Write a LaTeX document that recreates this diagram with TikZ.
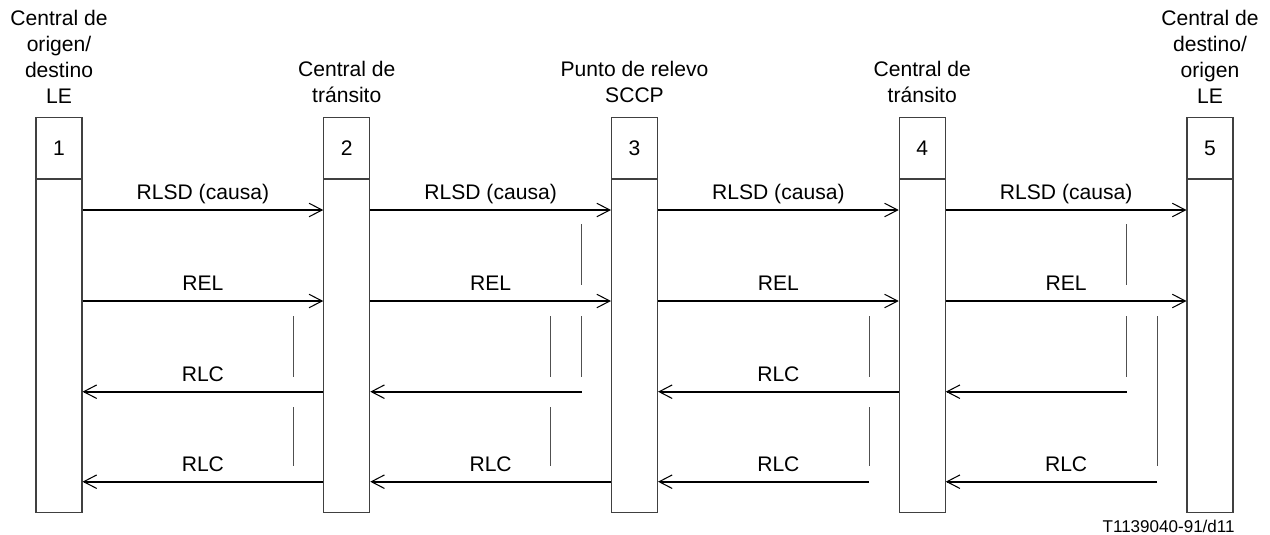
\documentclass[tikz,border=0pt]{standalone}
\usepackage{fontspec}
\setmainfont{Liberation Sans}
\usetikzlibrary{positioning, arrows.meta, calc}
\definecolor{boxline}{RGB}{64, 64, 64}
\definecolor{timerline}{RGB}{80, 80, 80}
\tikzset{
    base/.style={font=\fontsize{12}{14.8}\selectfont, align=center, inner sep=0pt},
    header/.style={base, anchor=south},
    topcell/.style={base, draw=boxline, line width=0.6pt, minimum width=0.92cm, minimum height=1.21cm},
    lifeline/.style={draw=boxline, line width=0.6pt, minimum width=0.92cm, minimum height=6.67cm, inner sep=0pt},
    msg/.style={-{Straight Barb[length=0.26cm, width=0.27cm, line width=0.6pt]}, line width=1pt},
    msglabel/.style={base, anchor=base, yshift=0.21cm},
    timer/.style={draw=timerline, line width=0.5pt}
}

\begin{document}
\begin{tikzpicture}[x=0.02cm, y=-0.02cm]
\useasboundingbox (0,0) rectangle (1270,534);

% Exchanges
\node[topcell] (h1) at (59,148) {1};
\node[topcell, right=4.815cm of h1] (h2) {2};
\node[topcell, right=4.815cm of h2] (h3) {3};
\node[topcell, right=4.815cm of h3] (h4) {4};
\node[topcell, right=4.815cm of h4] (h5) {5};
\node[lifeline, below=0pt of h1] (b1) {};
\node[lifeline, below=0pt of h2] (b2) {};
\node[lifeline, below=0pt of h3] (b3) {};
\node[lifeline, below=0pt of h4] (b4) {};
\node[lifeline, below=0pt of h5] (b5) {};

\node[header, above=0.275cm of h1] (n1) {Central de\\origen/\\destino\\LE};
\node[header, above=0.275cm of h2] (n2) {Central de\\tránsito};
\node[header, above=0.275cm of h3] (n3) {Punto de relevo\\SCCP};
\node[header, above=0.275cm of h4] (n4) {Central de\\tránsito};
\node[header, above=0.275cm of h5] (n5) {Central de\\destino/\\origen\\LE};

% Message levels and timer ends
\coordinate (r1) at (0,210);
\coordinate (r2) at (0,301);
\coordinate (r3) at (0,391.7);
\coordinate (r4) at (0,481.7);
\coordinate (s3a) at (581.7,391.7);
\coordinate (s5a) at (1126.7,391.7);
\coordinate (s4b) at (869,481.7);
\coordinate (s5b) at (1157,481.7);

% RLSD
\draw[msg] (b1.east |- r1) -- node[msglabel, midway] {RLSD (causa)} (b2.west |- r1);
\draw[msg] (b2.east |- r1) -- node[msglabel, midway] {RLSD (causa)} (b3.west |- r1);
\draw[msg] (b3.east |- r1) -- node[msglabel, midway] {RLSD (causa)} (b4.west |- r1);
\draw[msg] (b4.east |- r1) -- node[msglabel, midway] {RLSD (causa)} (b5.west |- r1);

% REL
\draw[msg] (b1.east |- r2) -- node[msglabel, midway] {REL} (b2.west |- r2);
\draw[msg] (b2.east |- r2) -- node[msglabel, midway] {REL} (b3.west |- r2);
\draw[msg] (b3.east |- r2) -- node[msglabel, midway] {REL} (b4.west |- r2);
\draw[msg] (b4.east |- r2) -- node[msglabel, midway] {REL} (b5.west |- r2);

% RLC
\draw[msg] (b2.west |- r3) -- node[msglabel, midway] {RLC} (b1.east |- r3);
\draw[msg] (s3a) -- (b2.east |- r3);
\draw[msg] (b4.west |- r3) -- node[msglabel, midway] {RLC} (b3.east |- r3);
\draw[msg] (s5a) -- (b4.east |- r3);

\draw[msg] (b2.west |- r4) -- node[msglabel, midway] {RLC} (b1.east |- r4);
\draw[msg] (b3.west |- r4) -- node[msglabel, midway] {RLC} (b2.east |- r4);
\draw[msg] (s4b) -- (b3.east |- r4);
\node[msglabel] at ($(b3.east |- r4)!0.5!(b4.west |- r4)$) {RLC};
\draw[msg] (s5b) -- (b4.east |- r4);
\node[msglabel] at ($(b4.east |- r4)!0.5!(b5.west |- r4)$) {RLC};

% Timers
\draw[timer] (293.3,316) -- (293.3,377);
\draw[timer] (293.3,407) -- (293.3,466);
\draw[timer] (550.7,316) -- (550.7,377);
\draw[timer] (550.7,407) -- (550.7,466);
\draw[timer] (581.7,224) -- (581.7,285);
\draw[timer] (581.7,316) -- (s3a |- 0,377);
\draw[timer] (869,316) -- (869,377);
\draw[timer] (869,407) -- (869,466);
\draw[timer] (1126.7,224) -- (1126.7,285);
\draw[timer] (1126.7,316) -- (s5a |- 0,377);
\draw[timer] (1157,316) -- (1157,466);

\node[font=\fontsize{9.7}{12}\selectfont, anchor=base east, inner sep=0pt] (ref) at (1235,532) {T1139040-91/d11};

\end{tikzpicture}
\end{document}
